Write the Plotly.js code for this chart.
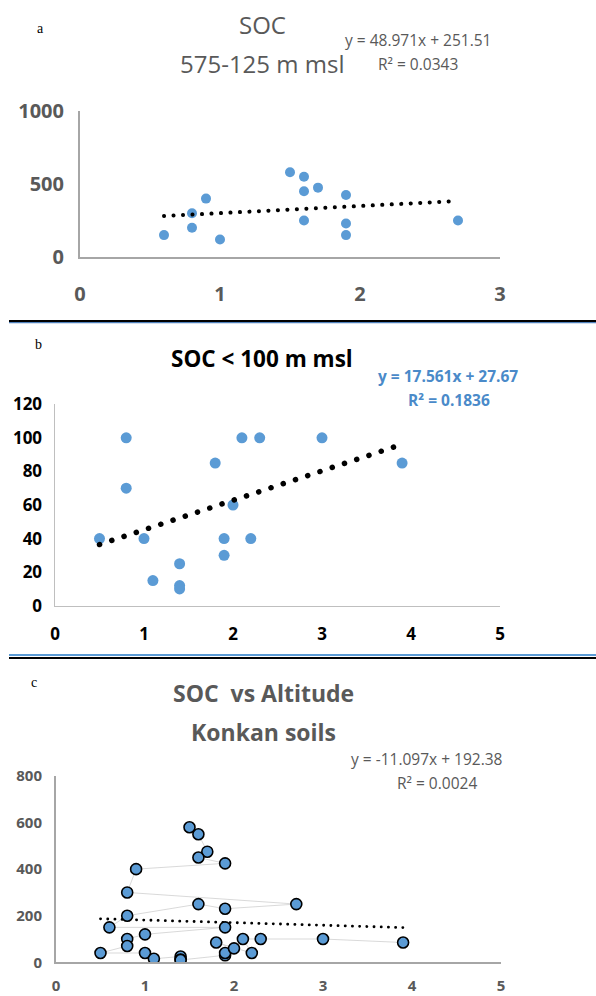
<!DOCTYPE html>
<html>
<head>
<meta charset="utf-8">
<script src="https://cdn.plot.ly/plotly-3.0.1.min.js"></script>
<style>html,body{margin:0;padding:0;background:#fff}#chart{width:596px;height:996px}
.js-line{stroke-linecap:round !important}</style>
</head>
<body>
<div id="chart"></div>
<script>
// Panel a: SOC 575-125 m msl
const aX = [0.6, 0.8, 0.8, 0.9, 1.0, 1.5, 1.6, 1.6, 1.7, 1.6, 1.9, 1.9, 1.9, 2.7];
const aY = [150, 300, 200, 400, 120, 580, 550, 450, 475, 250, 425, 230, 150, 250];
const aSlope = 48.971, aIntercept = 251.51, aR2 = '0.0343';

// Panel b: SOC < 100 m msl
const bX = [0.5, 0.8, 0.8, 1.0, 1.1, 1.4, 1.4, 1.4, 1.8, 1.9, 1.9, 2.0, 2.1, 2.2, 2.3, 3.0, 3.9];
const bY = [40, 100, 70, 40, 15, 25, 12, 10, 85, 40, 30, 60, 100, 40, 100, 100, 85];
const bSlope = 17.561, bIntercept = 27.67, bR2 = '0.1836';

// Panel c: SOC vs Altitude, Konkan soils (all samples, in sheet order)
const cX = [1.5, 1.6, 1.7, 1.6, 1.9, 0.9, 0.8, 2.7, 1.9, 1.6, 0.8, 0.6, 1.9, 1.0,
            0.8, 0.8, 0.5, 1.0, 1.1, 1.4, 1.4, 1.4, 1.9, 1.9, 2.0, 1.8, 2.2, 2.1, 2.3, 3.0, 3.9];
const cY = [580, 550, 475, 450, 425, 400, 300, 250, 230, 250, 200, 150, 150, 120,
            100, 70, 40, 40, 15, 25, 12, 10, 30, 40, 60, 85, 40, 100, 100, 100, 85];
const cSlope = -11.097, cIntercept = 192.38, cR2 = '0.0024';

const W = 596, H = 996;
const px = x => x / W, py = y => 1 - y / H;

function trend(xs, m, b) {
  const x0 = Math.min(...xs), x1 = Math.max(...xs);
  return {x: [x0, x1], y: [m * x0 + b, m * x1 + b]};
}
const ta = trend(aX, aSlope, aIntercept);
const tb = trend(bX, bSlope, bIntercept);
const tc = trend(cX, cSlope, cIntercept);

const blue = '#5B9BD5';
const gray = '#595959';

const data = [
  {x: aX, y: aY, type: 'scatter', mode: 'markers', xaxis: 'x', yaxis: 'y',
   marker: {color: blue, size: 10}, hoverinfo: 'none'},
  {x: ta.x, y: ta.y, type: 'scatter', mode: 'lines', xaxis: 'x', yaxis: 'y',
   line: {color: '#000', width: 4, dash: '0.1px,9.4px'}, hoverinfo: 'none'},

  {x: bX, y: bY, type: 'scatter', mode: 'markers', xaxis: 'x2', yaxis: 'y2',
   marker: {color: blue, size: 11}, hoverinfo: 'none'},
  {x: tb.x, y: tb.y, type: 'scatter', mode: 'lines', xaxis: 'x2', yaxis: 'y2',
   line: {color: '#000', width: 5.5, dash: '0.1px,12.8px'}, hoverinfo: 'none'},

  {x: cX, y: cY, type: 'scatter', mode: 'lines', xaxis: 'x3', yaxis: 'y3',
   line: {color: '#cfcfcf', width: 0.8}, hoverinfo: 'none'},
  {x: tc.x, y: tc.y, type: 'scatter', mode: 'lines', xaxis: 'x3', yaxis: 'y3',
   line: {color: '#000', width: 2.8, dash: '0.1px,7.1px'}, hoverinfo: 'none'},
  {x: cX, y: cY, type: 'scatter', mode: 'markers', xaxis: 'x3', yaxis: 'y3',
   marker: {color: blue, size: 11, line: {color: '#000', width: 1.6}}, hoverinfo: 'none'}
];

function ax(domain, range, anchor, tfont, dtick, standoff, lcolor, lwidth) {
  return {domain, range, anchor, autorange: false, showgrid: false, zeroline: false,
    showline: true, linecolor: lcolor, linewidth: lwidth, ticks: '', dtick, tick0: 0,
    tickfont: tfont, ticklabelstandoff: standoff, fixedrange: true};
}

const fa = {family: 'Open Sans', size: 20, color: gray, weight: 700};
const fb = {family: 'Open Sans', size: 17, color: '#000', weight: 700};
const fc = {family: 'Open Sans', size: 15, color: gray, weight: 700};

const layout = {
  width: W, height: H, margin: {l: 0, r: 0, t: 0, b: 0},
  paper_bgcolor: '#fff', plot_bgcolor: 'rgba(0,0,0,0)', showlegend: false,
  xaxis:  ax([px(80), px(500)], [0, 3], 'y', fa, 1, 18, '#a6a6a6', 2),
  yaxis:  ax([py(257), py(111)], [0, 1000], 'x', fa, 500, 10, '#a6a6a6', 2),
  xaxis2: ax([px(55), px(500)], [0, 5], 'y2', fb, 1, 12, '#bfbfbf', 1.5),
  yaxis2: ax([py(605.7), py(404.3)], [0, 120], 'x2', fb, 20, 8, '#bfbfbf', 1.5),
  xaxis3: ax([px(56), px(501)], [0, 5], 'y3', fc, 1, 9, '#a6a6a6', 2),
  yaxis3: ax([py(962.3), py(776)], [0, 800], 'x3', fc, 200, 9, '#a6a6a6', 2),
  shapes: [
    {type: 'line', xref: 'paper', yref: 'paper', x0: px(9), x1: 1, y0: py(321), y1: py(321), line: {color: '#000', width: 2}},
    {type: 'line', xref: 'paper', yref: 'paper', x0: px(9), x1: 1, y0: py(322.7), y1: py(322.7), line: {color: '#4F81BD', width: 1.2}},
    {type: 'line', xref: 'paper', yref: 'paper', x0: px(9), x1: 1, y0: py(655), y1: py(655), line: {color: '#5B9BD5', width: 2}},
    {type: 'line', xref: 'paper', yref: 'paper', x0: px(9), x1: 1, y0: py(658), y1: py(658), line: {color: '#000', width: 2}}
  ],
  annotations: []
};

function note(text, x, y, font) {
  layout.annotations.push({text, x: px(x), y: py(y), xref: 'paper', yref: 'paper',
    xanchor: 'center', yanchor: 'middle', showarrow: false, font});
}
const serif = {family: 'Liberation Serif', size: 14, color: '#000'};
note('a', 40, 28, serif);
note('b', 38, 344, serif);
note('c', 34, 682, serif);

const tA = {family: 'Open Sans', size: 24, color: gray};
note('SOC', 262, 25, tA);
note('575-125 m msl', 262, 63, tA);
const eA = {family: 'Open Sans', size: 15.5, color: gray};
note('y = ' + aSlope + 'x + ' + aIntercept, 418, 40, eA);
note('R² = ' + aR2, 418, 64, eA);

note('SOC < 100 m msl', 262, 358, {family: 'Open Sans', size: 22.5, color: '#000', weight: 700});
const eB = {family: 'Open Sans', size: 15.5, color: '#4A8AC9', weight: 700};
note('y = ' + bSlope + 'x + ' + bIntercept, 448, 376, eB);
note('R² = ' + bR2, 449, 400, eB);

const tC = {family: 'Open Sans', size: 23, color: gray, weight: 700};
note('SOC  vs Altitude', 263, 693, tC);
note('Konkan soils', 263, 732, tC);
const eC = {family: 'Open Sans', size: 15.5, color: gray};
note('y = ' + cSlope + 'x + ' + cIntercept, 427, 759, eC);
note('R² = ' + cR2, 437, 783, eC);

Plotly.newPlot('chart', data, layout, {displayModeBar: false, staticPlot: true});
</script>
</body>
</html>
